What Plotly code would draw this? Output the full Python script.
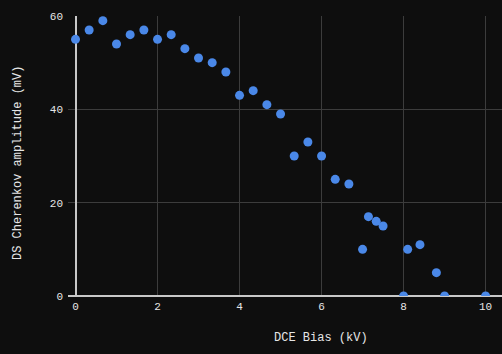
import plotly.graph_objects as go

bias_kv = [0, 0.333, 0.667, 1, 1.333, 1.667, 2, 2.333, 2.667, 3, 3.333, 3.667,
           4, 4.333, 4.667, 5, 5.333, 5.667, 6, 6.333, 6.667, 7, 7.143, 7.333,
           7.5, 8, 8.1, 8.4, 8.8, 9, 10]
amplitude_mv = [55, 57, 59, 54, 56, 57, 55, 56, 53, 51, 50, 48,
                43, 44, 41, 39, 30, 33, 30, 25, 24, 10, 17, 16,
                15, 0, 10, 11, 5, 0, 0]

x_ticks = [0, 2, 4, 6, 8, 10]
y_ticks = [0, 20, 40, 60]

FONT = "Liberation Mono, DejaVu Sans Mono, monospace"
BG = "#0e0e0e"
TXT = "#e6e6e6"

fig = go.Figure(go.Scatter(
    x=bias_kv, y=amplitude_mv, mode="markers",
    marker=dict(size=9, color="#4a88e8", line=dict(width=0)),
))

fig.update_layout(
    width=502, height=354,
    margin=dict(l=68, r=0, t=16, b=58),
    paper_bgcolor=BG, plot_bgcolor=BG,
    font=dict(family=FONT, size=11, color=TXT),
    showlegend=False,
    xaxis=dict(range=[-0.183, 10.4], tickvals=x_ticks, showgrid=True,
               gridcolor="#3c3c3c", gridwidth=1, zeroline=True,
               zerolinecolor="#c8c8c8", zerolinewidth=1.5,
               showline=False, ticklabelstandoff=2),
    yaxis=dict(range=[0, 60], tickvals=y_ticks, showgrid=True,
               gridcolor="#3c3c3c", gridwidth=1, zeroline=True,
               zerolinecolor="#c8c8c8", zerolinewidth=1.5,
               showline=False, ticklabelstandoff=4),
    annotations=[
        dict(text="DCE Bias (kV)", xref="paper", yref="paper",
             x=(321 - 68) / 434, y=-(338 - 296) / 280, xanchor="center",
             yanchor="middle", showarrow=False,
             font=dict(family=FONT, size=12, color=TXT)),
        dict(text="DS Cherenkov amplitude (mV)", xref="paper", yref="paper",
             x=-(68 - 18) / 434, y=(296 - 163) / 280, xanchor="center",
             yanchor="middle", textangle=-90, showarrow=False,
             font=dict(family=FONT, size=12, color=TXT)),
    ],
)

fig.write_html("out.html")
